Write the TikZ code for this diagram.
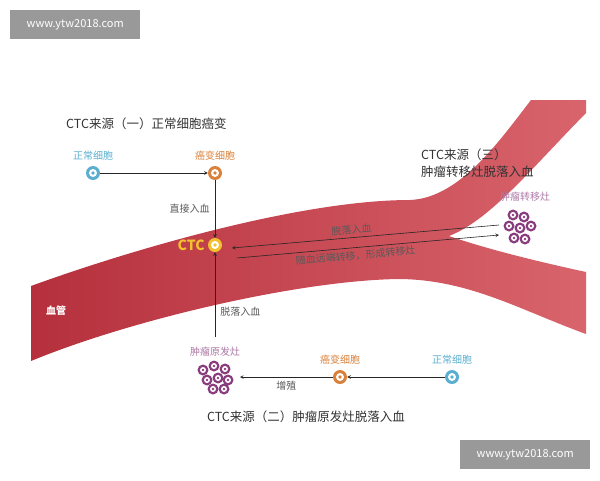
\documentclass[tikz,border=0pt]{standalone}
\usepackage{fontspec}
\setmainfont{Noto Sans CJK SC}
\usetikzlibrary{positioning}
\definecolor{normalc}{HTML}{5AAFD0}
\definecolor{cancerc}{HTML}{D9803A}
\definecolor{ctcc}{HTML}{F2C12E}
\definecolor{tumorc}{HTML}{8A3D7E}
\definecolor{titlec}{HTML}{333333}
\definecolor{vesselleft}{HTML}{B5303C}
\definecolor{vesselright}{HTML}{D9646C}
\tikzset{
	cell/.style={
		circle, fill=#1, minimum size=14pt, inner sep=0pt,
		path picture={
			\fill[white] (path picture bounding box.center) circle (4pt);
			\fill[#1] (path picture bounding box.center) circle (1.8pt);
		}
	},
	small cell/.style={cell=tumorc, minimum size=11pt,
		path picture={
			\fill[white] (path picture bounding box.center) circle (3pt);
			\fill[tumorc] (path picture bounding box.center) circle (1.3pt);
		}
	},
	labe/.style={font=\fontsize{10}{11}\selectfont, inner sep=1pt},
	ttl/.style={font=\fontsize{12.5}{17}\selectfont, text=titlec, align=left, inner sep=0pt},
	flow/.style={->, >=stealth, semithick, black!85},
	mark box/.style={fill=black!40, text=white, font=\fontsize{11}{13}\selectfont, minimum width=130pt, minimum height=29pt}
}
\begin{document}
\begin{tikzpicture}[x=1pt, y=-1pt]
	\useasboundingbox (0,0) rectangle (600,480);
	
	% blood vessel
	\shade[left color=vesselleft, right color=vesselright]
		(31,286) .. controls (130,250) and (300,200) .. (410,200)
		.. controls (460,198) and (500,140) .. (531,100) -- (586,100) -- (586,113)
		.. controls (530,170) and (490,220) .. (449,236)
		.. controls (490,250) and (540,262) .. (586,272) -- (586,334)
		.. controls (520,310) and (470,280) .. (400,279)
		.. controls (300,280) and (130,320) .. (31,361) -- cycle;
	\node (vessel)[text=white, labe] at (56,311) {\bfseries 血管};
	
	% source one
	\node (title1)[ttl, anchor=west] at (66,124) {CTC来源（一）正常细胞癌变};
	\node (normal1)[cell=normalc] at (93,173) {};
	\node (cancer1)[cell=cancerc] at (215,173) {};
	\node[labe, text=normalc, above=4pt of normal1] {正常细胞};
	\node[labe, text=cancerc, above=4pt of cancer1] {癌变细胞};
	\draw[flow] (normal1) to (cancer1);
	
	% CTC
	\node (ctc)[cell=ctcc] at (215,245) {};
	\node[left=3pt of ctc, text=ctcc, font=\fontsize{14}{16}\selectfont\bfseries, inner sep=0pt] {CTC};
	\draw[flow] (cancer1) to node[labe, left=4pt, text=black!65]{直接入血} (ctc);
	
	% source three
	\node (title3)[ttl, anchor=west] at (421,163) {CTC来源（三）\\肿瘤转移灶脱落入血};
	\coordinate (meta) at (520,228);
	\foreach \dx/\dy in {-7/-13, 4/-11, -11/-2, 0/0, 11/-2, -6/10, 5/11}
		\node[small cell] at ([shift={(\dx,\dy)}]meta) {};
	\node[labe, text=tumorc!70] at (525,197) {肿瘤转移灶};
	\coordinate (metain) at (499,225);
	\coordinate (metaout) at (499,235);
	\coordinate (ctcin) at (232,248);
	\coordinate (ctcout) at (237,258);
	\draw[flow] (metain) to node[labe, above=2pt, sloped, text=black!65, pos=0.55]{脱落入血} (ctcin);
	\draw[flow] (ctcout) to node[labe, below=2pt, sloped, text=black!65, pos=0.45]{随血远端转移，形成转移灶} (metaout);
	
	% source two
	\coordinate (primary) at (215,375);
	\foreach \dx/\dy in {-12/-5, -1/-9, 10/-6, -8/5, 3/3, 13/5, -2/14, 9/14}
		\node[small cell] at ([shift={(\dx,\dy)}]primary) {};
	\node[labe, text=tumorc!70] at (215,352) {肿瘤原发灶};
	\node (cancer2)[cell=cancerc] at (340,377) {};
	\node (normal2)[cell=normalc] at (452,377) {};
	\node[labe, text=cancerc, above=4pt of cancer2] {癌变细胞};
	\node[labe, text=normalc, above=4pt of normal2] {正常细胞};
	\coordinate (primaryin) at (240,377);
	\coordinate (primaryout) at (215,337);
	\draw[flow] (normal2) to (cancer2);
	\draw[flow] (cancer2) to node[labe, below=3pt, text=black!65]{增殖} (primaryin);
	\draw[flow] (primaryout) to node[labe, right=4pt, text=black!65, pos=0.3]{脱落入血} (ctc);
	\node (title2)[ttl] at (306,417) {CTC来源（二）肿瘤原发灶脱落入血};
	
	% watermarks
	\node (mark1)[mark box, anchor=north west] at (10,10) {www.ytw2018.com};
	\node (mark2)[mark box, anchor=north west] at (460,440) {www.ytw2018.com};
\end{tikzpicture}
\end{document}
